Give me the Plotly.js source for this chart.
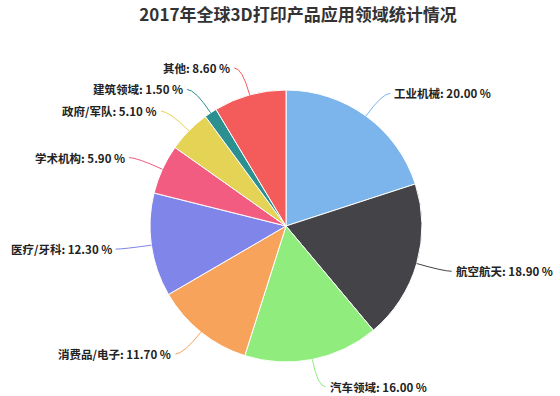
<!DOCTYPE html>
<html>
<head>
<meta charset="utf-8">
<script src="https://cdn.plot.ly/plotly-3.0.1.min.js"></script>
<style>html,body{margin:0;padding:0;background:#fff;}#chart{width:560px;height:396px;}</style>
</head>
<body>
<div id="chart"></div>
<script>
const categories = ["工业机械", "航空航天", "汽车领域", "消费品/电子", "医疗/牙科", "学术机构", "政府/军队", "建筑领域", "其他"];
const shares = [20.00, 18.90, 16.00, 11.70, 12.30, 5.90, 5.10, 1.50, 8.60];
const sliceColors = ["#7cb5ec", "#434348", "#90ed7d", "#f7a35c", "#8085e9", "#f15c80", "#e4d354", "#2b908f", "#f45b5b"];
const titleText = "2017年全球3D打印产品应用领域统计情况";

const W = 560, H = 396;
const cx = 286, cy = 226, R = 136;
const px = x => x / W;
const py = y => 1 - y / H;

const trace = {
  type: "pie",
  labels: categories,
  values: shares,
  sort: false,
  direction: "clockwise",
  rotation: 0,
  textinfo: "none",
  hoverinfo: "none",
  marker: {colors: sliceColors, line: {color: "#ffffff", width: 1}},
  domain: {x: [px(cx - R), px(cx + R)], y: [py(cy + R), py(cy - R)]},
  showlegend: false
};

const total = shares.reduce((a, b) => a + b, 0);
const shapes = [], annotations = [];
let cum = 0;
shares.forEach((v, i) => {
  const a = (cum + v / 2) / total * 2 * Math.PI;
  cum += v;
  const s = Math.sin(a), c = Math.cos(a);
  const right = s >= 0;
  const x0 = cx + R * s, y0 = cy - R * c;
  const x1 = cx + (R + 28) * s, y1 = cy - (R + 28) * c;
  const x2 = x1 + (right ? 8 : -8);
  shapes.push({
    type: "path", xref: "paper", yref: "paper",
    path: `M ${px(x0)} ${py(y0)} Q ${px(x1)} ${py(y1)} ${px(x2)} ${py(y1)}`,
    line: {color: sliceColors[i], width: 1}
  });
  annotations.push({
    xref: "paper", yref: "paper",
    x: px(x2 + (right ? 2 : -2)), y: py(y1),
    xanchor: right ? "left" : "right", yanchor: "middle",
    text: "<b>" + categories[i] + ": " + v.toFixed(2) + " %</b>",
    showarrow: false,
    font: {family: "Noto Sans CJK SC, sans-serif", size: 11.5, color: "#222"}
  });
});

const layout = {
  width: W, height: H,
  margin: {l: 0, r: 0, t: 0, b: 0},
  paper_bgcolor: "#ffffff",
  title: {
    text: "<b>" + titleText + "</b>",
    x: 298 / W, xanchor: "center",
    y: 1 - 15 / H, yanchor: "middle", yref: "container",
    font: {family: "Noto Sans CJK SC, sans-serif", size: 17, color: "#333"}
  },
  shapes: shapes,
  annotations: annotations
};

Plotly.newPlot("chart", [trace], layout, {displayModeBar: false, staticPlot: true});
</script>
</body>
</html>
